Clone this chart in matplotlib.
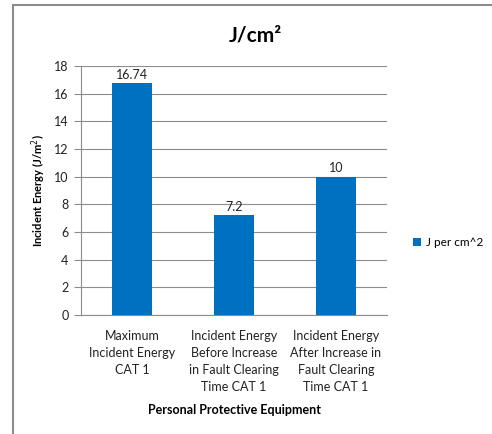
import matplotlib.pyplot as plt
from matplotlib.patches import Rectangle

# data
categories = ["Maximum\nIncident Energy\nCAT 1",
              "Incident Energy\nBefore Increase\nin Fault Clearing\nTime CAT 1",
              "Incident Energy\nAfter Increase in\nFault Clearing\nTime CAT 1"]
values = [16.74, 7.2, 10]
value_labels = ["16.74", "7.2", "10"]
yticks = [0, 2, 4, 6, 8, 10, 12, 14, 16, 18]

plt.rcParams['font.family'] = ['Lato', 'DejaVu Sans']

W, H = 492, 434
fig = plt.figure(figsize=(W / 100, H / 100), dpi=100)

# outer chart border (clipped at right/bottom like the screenshot)
fig.patches.append(Rectangle((13 / W, -0.05), 1.1, 1 - 5 / H + 0.05, transform=fig.transFigure,
                             fill=False, edgecolor='#8c8c8c', linewidth=1.5))

ax = fig.add_axes([81 / W, 1 - 315 / H, (387 - 81) / W, (315 - 66) / H])
x = range(len(values))
bars = ax.bar(x, values, width=0.39, color='#0070C0', label='J per cm^2', zorder=3)
for i, v in enumerate(values):
    ax.text(i, v + 0.2, value_labels[i], ha='center', va='bottom', fontsize=9, color='#222222')

ax.set_xlim(-0.5, 2.5)
ax.set_ylim(0, 18)
ax.set_yticks(yticks)
ax.yaxis.grid(True, color='#8c8c8c', linewidth=0.8, zorder=0)
ax.set_xticks(list(x))
ax.set_xticklabels(categories, fontsize=9, color='#222222', linespacing=1.5)
ax.tick_params(axis='x', length=0, pad=11)
ax.tick_params(axis='y', length=5, color='#8c8c8c', labelsize=9, labelcolor='#222222', pad=4)
for s in ['top', 'right']:
    ax.spines[s].set_visible(False)
ax.spines['left'].set_color('#8c8c8c')
ax.spines['bottom'].set_color('#8c8c8c')

ax.set_xlabel("Personal Protective Equipment", fontsize=9, fontweight='bold', labelpad=8)
ax.set_ylabel("Incident Energy (J/m$^2$)", fontsize=8, fontweight='bold', labelpad=4)

fig.text(255 / W, 1 - 35 / H, "J/cm²", ha='center', va='center', fontsize=15, fontweight='bold')

fig.legend(handles=[bars], labels=['J per cm^2'], loc='center left', bbox_to_anchor=(402 / W, 1 - 243 / H),
           frameon=False, fontsize=8.5, handlelength=0.7, handleheight=0.7, handletextpad=0.4)

plt.savefig('out.png', dpi=100)
